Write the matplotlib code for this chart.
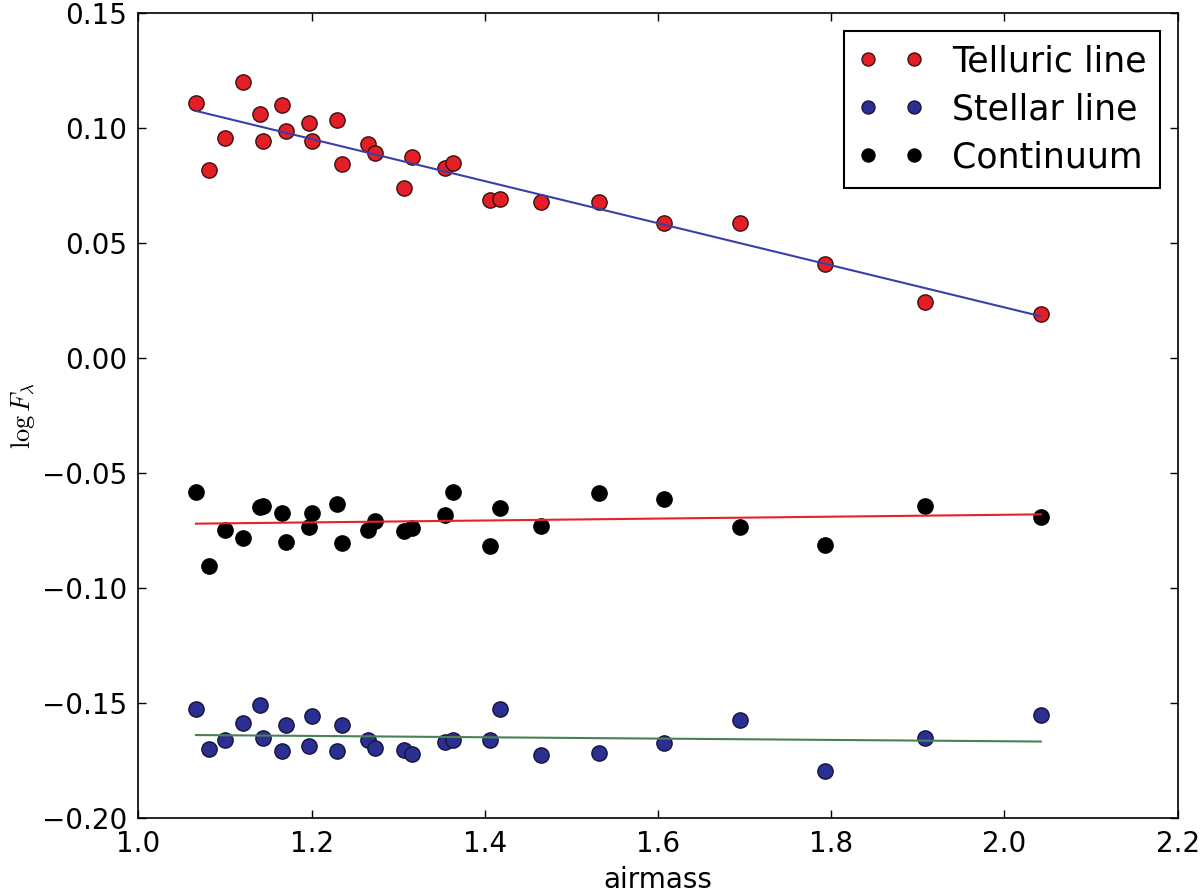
import numpy as np
import matplotlib
matplotlib.use("Agg")
import matplotlib.pyplot as plt

plt.rcParams['mathtext.fontset'] = 'cm'

# airmass of each exposure (shared by all three series)
airmass = [1.0665, 1.082, 1.100, 1.121, 1.140, 1.144, 1.166, 1.171, 1.1965, 1.201,
           1.229, 1.235, 1.2655, 1.273, 1.307, 1.316, 1.354, 1.363, 1.406, 1.417,
           1.465, 1.532, 1.607, 1.695, 1.793, 1.908, 2.042]

telluric = [0.1108, 0.0818, 0.0959, 0.1202, 0.1064, 0.0944, 0.1100, 0.0988, 0.1021, 0.0944,
            0.1037, 0.0847, 0.0933, 0.0892, 0.0739, 0.0876, 0.0826, 0.0849, 0.0687, 0.0691,
            0.0678, 0.0678, 0.0590, 0.0588, 0.0410, 0.0245, 0.0192]

continuum = [-0.0581, -0.0903, -0.0746, -0.0783, -0.0645, -0.0641, -0.0672, -0.0800, -0.0732, -0.0672,
             -0.0633, -0.0804, -0.0746, -0.0706, -0.0749, -0.0738, -0.0681, -0.0579, -0.0814, -0.0652,
             -0.0730, -0.0585, -0.0612, -0.0735, -0.0810, -0.0640, -0.0690]

stellar = [-0.1523, -0.1700, -0.1661, -0.1584, -0.1508, -0.1651, -0.1705, -0.1596, -0.1687, -0.1556,
           -0.1708, -0.1593, -0.1661, -0.1694, -0.1704, -0.1719, -0.1668, -0.1657, -0.1661, -0.1523,
           -0.1725, -0.1715, -0.1672, -0.1572, -0.1795, -0.1650, -0.1550]

x = np.array(airmass)

fig = plt.figure(figsize=(12, 8.93), dpi=100)
ax = fig.add_axes([0.1153, 0.0835, 0.8661, 0.9016])

ax.plot(x, telluric, 'o', color='#e41e26', mec='#3a1010', mew=1.0, ms=11, label='Telluric line')
ax.plot(x, stellar, 'o', color='#2b2f91', mec='#15153a', mew=1.0, ms=11, label='Stellar line')
ax.plot(x, continuum, 'o', color='black', mec='black', mew=1.0, ms=11, label='Continuum')

# linear fits through each series
for yv, c in [(telluric, '#3a3fa8'), (continuum, '#e8202a'), (stellar, '#4b7f55')]:
    p = np.polyfit(x, yv, 1)
    xx = np.array([x.min(), x.max()])
    ax.plot(xx, np.polyval(p, xx), '-', color=c, lw=1.5)

ax.set_xlim(1.0, 2.2)
ax.set_ylim(-0.20, 0.15)
ax.set_xticks(np.arange(1.0, 2.21, 0.2))
ax.set_yticks(np.arange(-0.20, 0.151, 0.05))
ax.tick_params(direction='in', length=6, width=1, top=True, right=True, labelsize=20, pad=8)
for s in ax.spines.values():
    s.set_linewidth(1.2)

ax.set_xlabel('airmass', fontsize=20, labelpad=6)
ax.set_ylabel(r'$\log F_\lambda$', fontsize=19)
ax.yaxis.set_label_coords(-0.098, 0.5)

leg = ax.legend(loc='upper right', numpoints=2, markerscale=0.85, fontsize=25,
                fancybox=False, edgecolor='black', framealpha=1,
                borderaxespad=0.5, handlelength=1.9, labelspacing=0.4)
leg.get_frame().set_linewidth(1.5)

plt.savefig('out.png', dpi=100)
